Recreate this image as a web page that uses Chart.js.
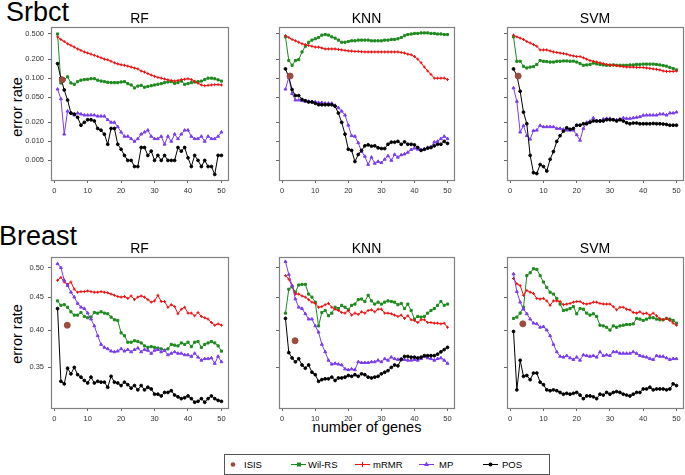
<!DOCTYPE html>
<html>
<head>
<meta charset="utf-8">
<script src="https://cdn.jsdelivr.net/npm/chart.js@4.4.1/dist/chart.umd.min.js"></script>
<style>
  body { margin: 0; background: #fff; font-family: "Liberation Sans", Arial, sans-serif; }
  #page { position: relative; width: 685px; height: 475px; overflow: hidden; }
  canvas { position: absolute; }
  .lbl { position: absolute; white-space: nowrap; color: #000; }
  .big { font-size: 27px; line-height: 27px; }
  .ttl { font-size: 14px; line-height: 14px; transform: translateX(-50%); }
  .axl { font-size: 14.5px; line-height: 15px; transform: translate(-50%, -50%); }
  .rot { transform: translate(-50%, -50%) rotate(-90deg); }
</style>
</head>
<body>
<div id="page">
  <div class="lbl big" style="left:6px;top:-1px">Srbct</div>
  <div class="lbl big" style="left:-1px;top:223px">Breast</div>
  <div class="lbl axl rot" style="left:17px;top:107px">error rate</div>
  <div class="lbl axl rot" style="left:17px;top:334px">error rate</div>
  <div class="lbl axl" style="left:367px;top:427px">number of genes</div>
  <svg style="position:absolute;left:224px;top:454px" width="326" height="21">
    <rect x="0.5" y="0.5" width="325" height="20" fill="none" stroke="#555" stroke-width="1"/>
    <circle cx="9" cy="10.5" r="2.3" fill="#9c4b3c"/>
    <text x="20" y="14" font-size="9.5" font-family="Liberation Sans, Arial">ISIS</text>
    <line x1="67" y1="10.5" x2="82" y2="10.5" stroke="#1f8a1f"/>
    <rect x="73" y="8.5" width="4" height="4" fill="#1f8a1f"/>
    <text x="84" y="14" font-size="9.5" font-family="Liberation Sans, Arial">Wil-RS</text>
    <line x1="131" y1="10.5" x2="146" y2="10.5" stroke="#ee1111"/>
    <line x1="138.5" y1="8" x2="138.5" y2="13" stroke="#ee1111"/>
    <text x="149" y="14" font-size="9.5" font-family="Liberation Sans, Arial">mRMR</text>
    <line x1="195" y1="10.5" x2="210" y2="10.5" stroke="#7b3cf0"/>
    <polygon points="202.5,7.5 205,12 200,12" fill="#7b3cf0"/>
    <text x="215" y="14" font-size="9.5" font-family="Liberation Sans, Arial">MP</text>
    <line x1="259" y1="10.5" x2="274" y2="10.5" stroke="#000"/>
    <circle cx="266.5" cy="10.5" r="2" fill="#000"/>
    <text x="278" y="14" font-size="9.5" font-family="Liberation Sans, Arial">POS</text>
  </svg>
</div>
<script>
// number of genes
const genes = [1,2,3,4,5,6,7,8,9,10,11,12,13,14,15,16,17,18,19,20,21,22,23,24,25,
               26,27,28,29,30,31,32,33,34,35,36,37,38,39,40,41,42,43,44,45,46,47,48,49,50];

const xTicks = [0, 10, 20, 30, 40, 50];
const srbctTicks = [0.005, 0.01, 0.02, 0.05, 0.1, 0.2, 0.5];
const srbctTickLabels = ['0.005', '0.010', '0.020', '0.050', '0.100', '0.200', '0.500'];
const breastTicks = [0.35, 0.40, 0.45, 0.50];
const breastTickLabels = ['0.35', '0.40', '0.45', '0.50'];

// Srbct - RF
const srbctRfWil  = [0.50,0.084,0.095,0.105,0.084,0.080,0.088,0.093,0.095,0.096,0.098,0.098,0.093,0.090,0.088,0.086,0.085,0.085,0.085,0.087,
                     0.088,0.082,0.078,0.070,0.075,0.077,0.072,0.074,0.076,0.078,0.080,0.082,0.085,0.087,0.088,0.083,0.085,0.090,0.080,0.082,
                     0.085,0.087,0.088,0.090,0.095,0.100,0.100,0.098,0.094,0.090];
const srbctRfMrmr = [0.45,0.41,0.38,0.35,0.33,0.31,0.29,0.275,0.26,0.25,0.24,0.23,0.22,0.21,0.20,0.195,0.185,0.175,0.168,0.163,
                     0.16,0.155,0.15,0.145,0.14,0.13,0.125,0.118,0.112,0.107,0.103,0.10,0.097,0.094,0.092,0.09,0.092,0.095,0.096,0.098,
                     0.095,0.089,0.083,0.078,0.076,0.077,0.078,0.079,0.079,0.078];
const srbctRfMp   = [0.067,0.047,0.013,0.030,0.028,0.026,0.028,0.027,0.026,0.026,0.026,0.026,0.025,0.025,0.025,0.022,0.020,0.020,0.017,0.014,
                     0.012,0.012,0.011,0.010,0.011,0.013,0.014,0.015,0.012,0.011,0.011,0.012,0.009,0.012,0.010,0.013,0.011,0.013,0.015,0.015,
                     0.012,0.011,0.011,0.012,0.010,0.012,0.011,0.011,0.012,0.014];
const srbctRfPos  = [0.17,0.10,0.065,0.045,0.028,0.027,0.024,0.018,0.020,0.022,0.022,0.021,0.016,0.015,0.013,0.009,0.016,0.016,0.009,0.0075,
                     0.006,0.005,0.005,0.004,0.004,0.008,0.008,0.006,0.007,0.005,0.006,0.005,0.006,0.005,0.005,0.005,0.008,0.007,0.008,0.0055,
                     0.004,0.006,0.005,0.004,0.005,0.004,0.004,0.003,0.006,0.006];

// Srbct - KNN
const srbctKnnWil  = [0.45,0.19,0.16,0.19,0.196,0.26,0.32,0.37,0.40,0.42,0.44,0.48,0.49,0.48,0.45,0.43,0.40,0.37,0.37,0.38,
                      0.39,0.39,0.40,0.40,0.40,0.40,0.39,0.39,0.39,0.39,0.40,0.40,0.41,0.41,0.42,0.44,0.47,0.49,0.50,0.51,
                      0.51,0.52,0.52,0.52,0.51,0.51,0.50,0.50,0.49,0.49];
const srbctKnnMrmr = [0.47,0.44,0.41,0.39,0.37,0.35,0.34,0.33,0.32,0.31,0.31,0.30,0.29,0.29,0.29,0.29,0.285,0.28,0.275,0.27,
                      0.268,0.265,0.265,0.262,0.26,0.26,0.26,0.26,0.26,0.26,0.26,0.26,0.26,0.26,0.26,0.255,0.25,0.24,0.235,0.22,
                      0.20,0.175,0.15,0.13,0.115,0.10,0.10,0.10,0.10,0.095];
const srbctKnnMp   = [0.067,0.103,0.057,0.045,0.045,0.044,0.043,0.043,0.042,0.042,0.041,0.041,0.040,0.040,0.040,0.037,0.034,0.030,0.026,0.018,
                      0.0123,0.012,0.0095,0.0069,0.0058,0.0043,0.0056,0.0045,0.0048,0.0046,0.0052,0.0059,0.005,0.0062,0.0056,0.0061,0.0063,0.0067,0.0074,0.0078,
                      0.0075,0.0074,0.0075,0.008,0.0082,0.0097,0.010,0.011,0.012,0.011];
const srbctKnnPos  = [0.14,0.104,0.066,0.053,0.053,0.046,0.044,0.042,0.042,0.040,0.038,0.038,0.038,0.038,0.038,0.036,0.028,0.020,0.013,0.0075,
                      0.0072,0.0048,0.0062,0.0072,0.0085,0.0088,0.0084,0.0085,0.0079,0.0077,0.0077,0.009,0.0097,0.0097,0.010,0.009,0.0098,0.009,0.009,0.0088,
                      0.008,0.0072,0.0075,0.0078,0.008,0.0085,0.009,0.009,0.010,0.0093];

// Srbct - SVM
const srbctSvmWil  = [0.45,0.185,0.185,0.154,0.145,0.15,0.152,0.165,0.19,0.185,0.183,0.18,0.18,0.185,0.185,0.187,0.187,0.185,0.186,0.18,
                      0.17,0.16,0.162,0.165,0.173,0.168,0.165,0.162,0.16,0.16,0.162,0.16,0.16,0.16,0.16,0.162,0.162,0.165,0.165,0.167,
                      0.167,0.167,0.167,0.165,0.162,0.158,0.155,0.148,0.142,0.135];
const srbctSvmMrmr = [0.48,0.45,0.43,0.41,0.38,0.36,0.34,0.32,0.28,0.28,0.28,0.27,0.26,0.255,0.25,0.245,0.24,0.23,0.225,0.22,
                      0.22,0.21,0.20,0.19,0.185,0.18,0.175,0.17,0.165,0.162,0.16,0.158,0.155,0.152,0.15,0.15,0.15,0.148,0.148,0.147,
                      0.145,0.143,0.14,0.138,0.135,0.13,0.128,0.128,0.128,0.13];
const srbctSvmMp   = [0.07,0.043,0.014,0.0177,0.0123,0.0108,0.0148,0.015,0.0178,0.017,0.017,0.017,0.017,0.016,0.016,0.0155,0.015,0.015,0.015,0.0127,
                      0.0104,0.016,0.020,0.0208,0.0235,0.021,0.021,0.0225,0.023,0.023,0.022,0.022,0.0225,0.0235,0.023,0.023,0.0235,0.024,0.0245,0.0258,
                      0.026,0.026,0.026,0.026,0.027,0.027,0.026,0.028,0.028,0.029];
const srbctSvmPos  = [0.14,0.11,0.062,0.029,0.019,0.006,0.0032,0.0031,0.0043,0.004,0.0034,0.0052,0.0069,0.010,0.0123,0.0145,0.0164,0.0155,0.016,0.018,
                      0.018,0.019,0.019,0.020,0.021,0.021,0.021,0.021,0.022,0.022,0.022,0.021,0.022,0.021,0.0197,0.019,0.0195,0.0195,0.019,0.019,
                      0.019,0.019,0.0192,0.019,0.019,0.0188,0.0185,0.018,0.018,0.018];

// Breast - RF
const breastRfWil  = [0.444,0.437,0.438,0.434,0.427,0.422,0.422,0.426,0.420,0.418,0.419,0.426,0.425,0.427,0.425,0.424,0.419,0.415,0.414,0.396,
                      0.392,0.383,0.383,0.385,0.384,0.382,0.378,0.376,0.377,0.376,0.375,0.374,0.372,0.374,0.380,0.379,0.378,0.382,0.380,0.383,
                      0.377,0.383,0.384,0.376,0.380,0.382,0.384,0.382,0.378,0.371];
const breastRfMrmr = [0.478,0.483,0.475,0.471,0.475,0.463,0.458,0.459,0.459,0.460,0.459,0.458,0.458,0.459,0.458,0.457,0.455,0.453,0.451,0.450,
                      0.451,0.448,0.452,0.446,0.450,0.452,0.450,0.446,0.442,0.444,0.453,0.443,0.443,0.434,0.438,0.435,0.424,0.431,0.434,0.425,
                      0.425,0.421,0.426,0.420,0.418,0.416,0.411,0.407,0.409,0.407];
const breastRfMp   = [0.507,0.500,0.478,0.469,0.458,0.450,0.440,0.434,0.432,0.425,0.416,0.406,0.392,0.380,0.376,0.374,0.371,0.370,0.371,0.374,
                      0.371,0.373,0.370,0.373,0.375,0.370,0.373,0.372,0.368,0.372,0.373,0.370,0.372,0.366,0.368,0.370,0.368,0.368,0.366,0.366,
                      0.364,0.368,0.363,0.359,0.361,0.361,0.362,0.355,0.364,0.357];
const breastRfPos  = [0.432,0.333,0.330,0.349,0.342,0.350,0.341,0.338,0.334,0.331,0.338,0.331,0.333,0.332,0.332,0.326,0.339,0.332,0.331,0.328,
                      0.332,0.329,0.325,0.328,0.323,0.328,0.323,0.326,0.324,0.318,0.318,0.316,0.320,0.320,0.322,0.317,0.315,0.313,0.314,0.316,
                      0.313,0.309,0.310,0.313,0.309,0.313,0.316,0.313,0.311,0.310];

// Breast - KNN
const breastKnnWil  = [0.425,0.463,0.467,0.458,0.470,0.471,0.471,0.455,0.450,0.442,0.406,0.426,0.429,0.421,0.425,0.434,0.432,0.437,0.434,0.430,
                       0.437,0.439,0.446,0.447,0.443,0.453,0.444,0.439,0.442,0.439,0.442,0.444,0.443,0.442,0.438,0.440,0.432,0.439,0.429,0.416,
                       0.420,0.419,0.420,0.425,0.429,0.432,0.437,0.443,0.437,0.439];
const breastKnnMrmr = [0.486,0.480,0.468,0.455,0.455,0.452,0.450,0.446,0.442,0.440,0.434,0.435,0.438,0.440,0.434,0.431,0.429,0.426,0.425,0.429,
                       0.422,0.425,0.423,0.427,0.425,0.429,0.430,0.427,0.431,0.431,0.425,0.425,0.424,0.422,0.420,0.422,0.417,0.421,0.415,0.414,
                       0.411,0.415,0.415,0.411,0.411,0.410,0.410,0.409,0.410,0.404];
const breastKnnMp   = [0.511,0.488,0.469,0.447,0.434,0.432,0.424,0.416,0.416,0.406,0.397,0.380,0.370,0.359,0.354,0.355,0.354,0.353,0.348,0.347,
                       0.348,0.347,0.357,0.356,0.356,0.356,0.357,0.357,0.359,0.357,0.361,0.359,0.363,0.361,0.360,0.361,0.360,0.359,0.359,0.360,
                       0.359,0.361,0.364,0.362,0.361,0.359,0.361,0.362,0.359,0.355];
const breastKnnPos  = [0.417,0.369,0.362,0.357,0.361,0.353,0.349,0.353,0.344,0.341,0.333,0.335,0.336,0.336,0.338,0.334,0.337,0.337,0.338,0.340,
                       0.339,0.341,0.339,0.342,0.341,0.338,0.337,0.338,0.339,0.342,0.344,0.346,0.350,0.353,0.352,0.360,0.364,0.364,0.363,0.363,
                       0.362,0.363,0.365,0.365,0.365,0.365,0.367,0.370,0.373,0.376];

// Breast - SVM
const breastSvmWil  = [0.417,0.419,0.425,0.434,0.486,0.491,0.498,0.497,0.486,0.475,0.466,0.458,0.455,0.448,0.439,0.429,0.430,0.432,0.435,0.424,
                       0.432,0.431,0.425,0.422,0.424,0.420,0.407,0.406,0.404,0.400,0.406,0.404,0.406,0.407,0.408,0.408,0.409,0.417,0.416,0.414,
                       0.416,0.418,0.418,0.416,0.415,0.415,0.417,0.416,0.414,0.410];
const breastSvmMrmr = [0.481,0.472,0.469,0.453,0.461,0.458,0.456,0.448,0.447,0.448,0.444,0.437,0.444,0.444,0.443,0.438,0.439,0.440,0.442,0.443,
                       0.443,0.440,0.439,0.440,0.442,0.442,0.440,0.439,0.439,0.439,0.435,0.430,0.434,0.434,0.431,0.430,0.426,0.425,0.427,0.424,
                       0.425,0.422,0.425,0.421,0.417,0.415,0.417,0.414,0.410,0.407];
const breastSvmMp   = [0.489,0.459,0.442,0.431,0.424,0.416,0.410,0.409,0.404,0.405,0.400,0.392,0.380,0.370,0.364,0.363,0.365,0.362,0.360,0.363,
                       0.359,0.366,0.365,0.364,0.365,0.363,0.370,0.365,0.366,0.365,0.370,0.370,0.368,0.368,0.368,0.368,0.370,0.368,0.365,0.364,
                       0.363,0.361,0.360,0.365,0.364,0.364,0.362,0.360,0.361,0.361];
const breastSvmPos  = [0.398,0.323,0.359,0.339,0.340,0.335,0.343,0.343,0.332,0.329,0.323,0.322,0.323,0.322,0.320,0.318,0.319,0.318,0.319,0.320,
                       0.317,0.313,0.316,0.316,0.315,0.313,0.318,0.317,0.320,0.318,0.320,0.321,0.320,0.318,0.317,0.316,0.318,0.320,0.320,0.324,
                       0.324,0.326,0.323,0.324,0.324,0.324,0.323,0.324,0.330,0.328];

// ISIS result (one point per panel)
const isisGenes = [2.4, 2.4, 2.4, 3.9, 3.9, 3.8];
const isisError = [0.094, 0.108, 0.108, 0.407, 0.385, 0.409];

const colWil = '#1f8a1f', colMrmr = '#ee1111', colMp = '#7b3cf0', colPos = '#000000', colIsis = '#9c4b3c';

const panels = [
  { id: 'sRF',  title: 'RF',  box: [51, 27, 228, 180],  row: 'srbct',  labels: true,
    wil: srbctRfWil, mrmr: srbctRfMrmr, mp: srbctRfMp, pos: srbctRfPos, isis: 0 },
  { id: 'sKNN', title: 'KNN', box: [279, 27, 454, 180], row: 'srbct',  labels: false,
    wil: srbctKnnWil, mrmr: srbctKnnMrmr, mp: srbctKnnMp, pos: srbctKnnPos, isis: 1 },
  { id: 'sSVM', title: 'SVM', box: [507, 27, 683, 180], row: 'srbct',  labels: false,
    wil: srbctSvmWil, mrmr: srbctSvmMrmr, mp: srbctSvmMp, pos: srbctSvmPos, isis: 2 },
  { id: 'bRF',  title: 'RF',  box: [51, 257, 228, 408],  row: 'breast', labels: true,
    wil: breastRfWil, mrmr: breastRfMrmr, mp: breastRfMp, pos: breastRfPos, isis: 3 },
  { id: 'bKNN', title: 'KNN', box: [279, 257, 454, 408], row: 'breast', labels: false,
    wil: breastKnnWil, mrmr: breastKnnMrmr, mp: breastKnnMp, pos: breastKnnPos, isis: 4 },
  { id: 'bSVM', title: 'SVM', box: [507, 257, 683, 408], row: 'breast', labels: false,
    wil: breastSvmWil, mrmr: breastSvmMrmr, mp: breastSvmMp, pos: breastSvmPos, isis: 5 }
];

const YW = 50, XH = 22, PT = 10, PR = 6;

// grey frame round the plotting region, like R's box()
const boxPlugin = {
  id: 'box',
  afterDraw(chart) {
    const a = chart.chartArea, ctx = chart.ctx;
    ctx.save();
    ctx.strokeStyle = '#808080';
    ctx.lineWidth = 1.2;
    ctx.strokeRect(Math.round(a.left) + 0.5, Math.round(a.top) + 0.5,
                   Math.round(a.right - a.left), Math.round(a.bottom - a.top));
    ctx.restore();
  }
};

function pts(arr) {
  return arr.map((v, i) => ({ x: genes[i], y: v }));
}

function lineSet(label, arr, color, style, radius) {
  return {
    label: label, data: pts(arr), borderColor: color, backgroundColor: color,
    borderWidth: 1, pointStyle: style, pointRadius: radius, pointBorderWidth: 1,
    pointBackgroundColor: color, pointBorderColor: color, showLine: true, tension: 0
  };
}

const page = document.getElementById('page');

panels.forEach(p => {
  const [l, t, r, b] = p.box;
  const cv = document.createElement('canvas');
  const w = (r - l) + YW + PR, h = (b - t) + PT + XH;
  cv.width = w; cv.height = h;
  cv.style.left = (l - YW) + 'px';
  cv.style.top = (t - PT) + 'px';
  cv.style.width = w + 'px'; cv.style.height = h + 'px';
  page.appendChild(cv);

  const ttl = document.createElement('div');
  ttl.className = 'lbl ttl';
  ttl.style.left = ((l + r) / 2) + 'px';
  ttl.style.top = (t - 16.5) + 'px';
  ttl.textContent = p.title;
  page.appendChild(ttl);

  const isSrbct = p.row === 'srbct';
  const yTicks = isSrbct ? srbctTicks : breastTicks;
  const yLabels = isSrbct ? srbctTickLabels : breastTickLabels;

  new Chart(cv.getContext('2d'), {
    type: 'scatter',
    data: {
      datasets: [
        { label: 'ISIS', data: [{ x: isisGenes[p.isis], y: isisError[p.isis] }],
          pointRadius: 3, pointBackgroundColor: colIsis, pointBorderColor: colIsis, showLine: false },
        lineSet('POS', p.pos, colPos, 'circle', 1.4),
        lineSet('MP', p.mp, colMp, 'triangle', 1.7),
        lineSet('mRMR', p.mrmr, colMrmr, 'cross', 1.5),
        lineSet('Wil-RS', p.wil, colWil, 'rect', 1.5)
      ]
    },
    options: {
      responsive: false,
      animation: false,
      layout: { padding: { left: 0, top: PT, right: PR, bottom: 0 } },
      plugins: { legend: { display: false }, tooltip: { enabled: false }, title: { display: false } },
      scales: {
        x: {
          type: 'linear', min: -0.96, max: 51.96,
          afterBuildTicks: s => { s.ticks = xTicks.map(v => ({ value: v })); },
          afterFit: s => { s.height = XH; },
          grid: { display: true, drawOnChartArea: false, drawTicks: true, tickLength: 3, color: '#666' },
          border: { display: false },
          ticks: { font: { family: 'Liberation Sans', size: 7.5 }, color: '#333', padding: 3,
                   maxRotation: 0, autoSkip: false, callback: v => String(v) }
        },
        y: {
          type: 'logarithmic',
          min: isSrbct ? 0.00245 : 0.3027,
          max: isSrbct ? 0.645 : 0.5195,
          afterBuildTicks: s => { s.ticks = yTicks.map(v => ({ value: v })); },
          afterFit: s => { s.width = YW; },
          grid: { display: true, drawOnChartArea: false, drawTicks: true, tickLength: 3, color: '#666' },
          border: { display: false },
          ticks: { font: { family: 'Liberation Sans', size: 7.5 }, color: '#333', padding: 4, autoSkip: false,
                   callback: (v, i) => p.labels ? yLabels[i] : '' }
        }
      }
    },
    plugins: [boxPlugin]
  });
});
</script>
</body>
</html>
